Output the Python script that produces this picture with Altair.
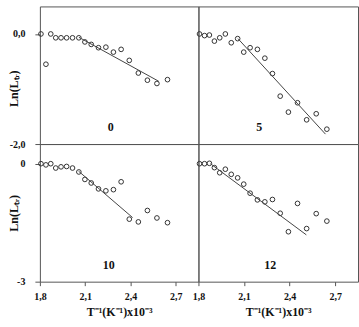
import altair as alt
import pandas as pd

# Inverse temperature, 10^3/T (K^-1), shared by all four series
inv_t = [1.807, 1.840, 1.872, 1.905, 1.940, 1.977, 2.016, 2.058, 2.098, 2.140,
         2.188, 2.237, 2.287, 2.338, 2.392, 2.452, 2.512, 2.575, 2.645]

# Ln(L_tr) for each series
ln_0 = [0.0, -0.55, 0.0, -0.07, -0.07, -0.07, -0.07, -0.07, -0.145, -0.19,
        -0.25, -0.24, -0.33, -0.28, -0.48, -0.71, -0.84, -0.90, -0.83]
ln_5 = [0.0, -0.03, -0.02, -0.13, -0.07, 0.0, -0.16, -0.085, -0.33, -0.25,
        -0.28, -0.44, -0.72, -1.13, -1.42, -1.25, -1.56, -1.45, -1.73]
ln_10 = [0.0, -0.03, 0.0, -0.11, -0.08, -0.07, -0.11, -0.21, -0.40, -0.49,
         -0.64, -0.69, -0.66, -0.46, -1.41, -1.48, -1.19, -1.38, -1.50]
ln_12 = [0.0, 0.0, 0.01, -0.10, -0.23, -0.14, -0.27, -0.36, -0.52, -0.75,
         -0.92, -0.97, -0.91, -1.26, -1.73, -1.01, -1.65, -1.27, -1.46]

# Fitted straight lines: (x start, x end), (y start, y end)
fit_0 = ([2.058, 2.587], [-0.06, -0.86])
fit_5 = ([2.060, 2.636], [-0.085, -1.82])
fit_10 = ([2.056, 2.414], [-0.19, -1.37])
fit_12 = ([1.879, 2.510], [0.0, -1.81])

panel_labels = ["0", "5", "10", "12"]
x_ticks = [1.8, 2.1, 2.4, 2.7]

FONT = "Liberation Serif"
INK = "#333333"
X_DOMAIN = [1.8, 2.85]


def panel(ys, fit, label, label_x, y_domain, y_ticks, y_label_expr,
          show_y, show_x, width, title_y):
    pts = pd.DataFrame({"x": inv_t, "y": ys})
    seg = pd.DataFrame({"x": fit[0], "y": fit[1]})
    lab = pd.DataFrame({"t": [label]})

    if show_x:
        x_axis = alt.Axis(values=x_ticks, title="T⁻¹(K⁻¹)x10⁻³",
                          labelExpr="replace(format(datum.value, '.1f'), '.', ',')",
                          labelFlush=False, grid=False, domain=False,
                          tickSize=4, tickColor="#555", labelPadding=6,
                          titlePadding=5)
    else:
        x_axis = None
    if show_y:
        y_axis = alt.Axis(values=y_ticks, labelExpr=y_label_expr,
                          title="Ln(Lₜᵣ)", grid=False, domain=False,
                          tickSize=5, tickColor="#555", labelPadding=10,
                          titleX=-19, titleY=title_y, titleAlign="center",
                          titleBaseline="bottom")
    else:
        y_axis = None

    xs = alt.Scale(domain=X_DOMAIN, nice=False, zero=False)
    ysc = alt.Scale(domain=y_domain, nice=False, zero=False)

    points = alt.Chart(pts).mark_point(
        shape="circle", size=22, filled=False, stroke=INK, strokeWidth=1, opacity=1
    ).encode(
        x=alt.X("x:Q", scale=xs, axis=x_axis),
        y=alt.Y("y:Q", scale=ysc, axis=y_axis),
    )
    line = alt.Chart(seg).mark_line(color="#444444", strokeWidth=1).encode(
        x=alt.X("x:Q", scale=xs),
        y=alt.Y("y:Q", scale=ysc),
    )
    text = alt.Chart(lab).mark_text(
        font=FONT, fontSize=12, fontWeight="bold", color="#111111"
    ).encode(
        x=alt.value(label_x), y=alt.value(121), text="t:N"
    )
    return alt.layer(points, line, text).properties(width=width, height=138)


top_left = panel(ln_0, fit_0, panel_labels[0], 71, [-2, 0.5], [0, -2],
                 "datum.value == 0 ? '0,0' : '-2,0'", True, False, 159, 82)
top_right = panel(ln_5, fit_5, panel_labels[1], 61, [-2, 0.5], [0, -2],
                  "''", False, False, 160, 69)
bottom_left = panel(ln_10, fit_10, panel_labels[2], 69, [-3, 0.5], [0, -3],
                    "datum.value == 0 ? '0' : '-3'", True, True, 159, 69)
bottom_right = panel(ln_12, fit_12, panel_labels[3], 72, [-3, 0.5], [0, -3],
                     "''", False, True, 160, 69)

chart = alt.concat(
    top_left, top_right, bottom_left, bottom_right,
    columns=2, spacing=0, bounds="flush", align="each"
).properties(
    padding={"left": 7, "top": 5, "right": 0, "bottom": 0},
    background="white",
).configure_view(
    stroke="#555555", strokeWidth=1
).configure_axis(
    labelFont=FONT, labelFontSize=10, labelFontWeight="bold", labelColor="#111111",
    titleFont=FONT, titleFontSize=12, titleFontWeight="bold", titleColor="#111111",
)

chart.save("out.html", embed_options={"renderer": "svg", "actions": False})
